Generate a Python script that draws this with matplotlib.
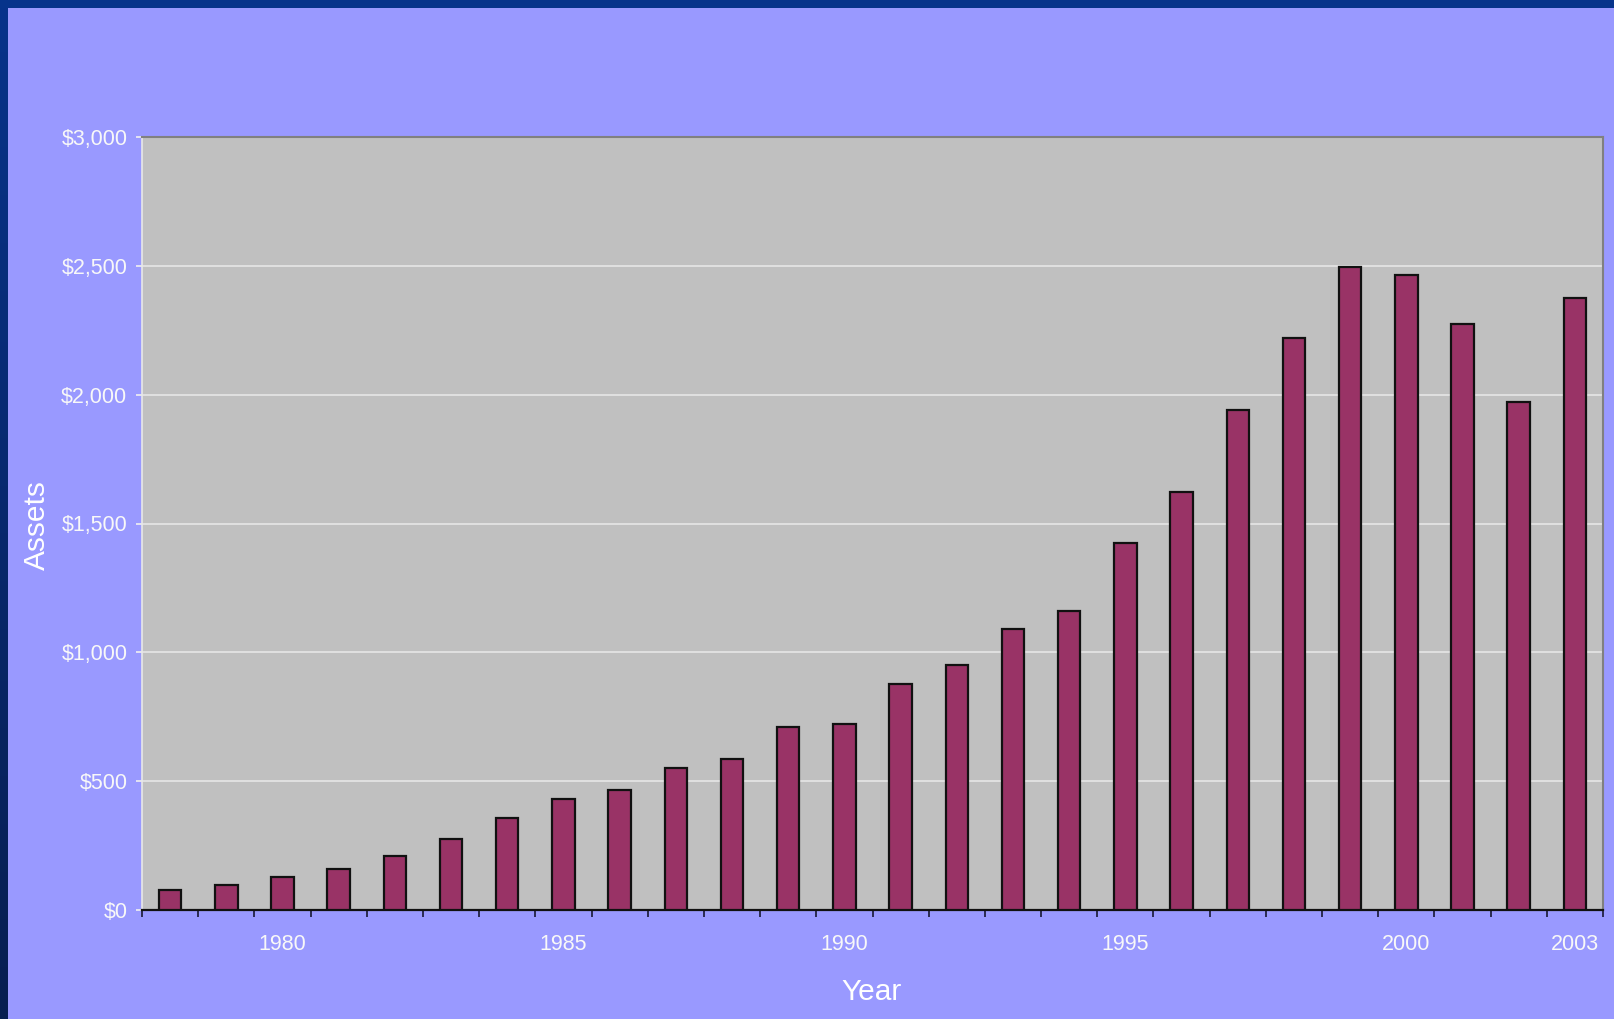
import matplotlib
matplotlib.use("Agg")
import matplotlib.pyplot as plt
import numpy as np
from matplotlib.patches import Rectangle
from matplotlib.ticker import FuncFormatter, FixedLocator
from matplotlib.colors import LinearSegmentedColormap

years = list(range(1978, 2004))
assets = [76, 96, 128, 160, 208, 276, 356, 431, 467, 551, 587, 711, 723,
          879, 951, 1091, 1159, 1426, 1622, 1942, 2221, 2497, 2463, 2274, 1970, 2375]
labeled_years = [1980, 1985, 1990, 1995, 2000, 2003]
y_ticks = [0, 500, 1000, 1500, 2000, 2500, 3000]

plt.rcParams['font.family'] = ['Liberation Sans', 'DejaVu Sans']

W, H = 1614, 1019
fig = plt.figure(figsize=(W / 100, H / 100), dpi=100)
fig.patch.set_facecolor('#9999FF')
# top border
fig.patches.append(Rectangle((0, 1 - 8 / H), 1, 8 / H, transform=fig.transFigure,
                             facecolor='#06338B', edgecolor='none'))
# left border gradient
gax = fig.add_axes([0, 0, 8 / W, 1])
grad = np.linspace(0, 1, 256).reshape(-1, 1)
cmap = LinearSegmentedColormap.from_list('b', ['#06338B', '#061E50'])
gax.imshow(grad, aspect='auto', cmap=cmap, extent=[0, 1, 0, 1], origin='upper')
gax.axis('off')

ax = fig.add_axes([142 / W, 1 - 910 / H, (1603 - 142) / W, (910 - 137) / H])
ax.set_facecolor('#C0C0C0')
x = np.arange(len(years))
ax.bar(x, assets, width=0.4, color='#993366', edgecolor='#111111', linewidth=1.6, zorder=3)

ax.set_xlim(-0.5, len(years) - 0.5)
ax.set_ylim(0, 3000)
ax.set_yticks(y_ticks)
ax.yaxis.set_major_formatter(FuncFormatter(lambda v, p: f"${int(v):,}"))
ax.grid(axis='y', color='#E6E6E6', linewidth=1.2, zorder=1)
ax.set_axisbelow(True)

ax.set_xticks([years.index(y) for y in labeled_years])
ax.set_xticklabels([str(y) for y in labeled_years])
ax.xaxis.set_minor_locator(FixedLocator(np.arange(-0.5, len(years), 1.0)))
ax.tick_params(axis='x', which='major', length=0, pad=17, labelsize=15.5, labelcolor='#F8F8F8')
ax.tick_params(axis='x', which='minor', length=5, width=1.3, color='#222244', direction='out')
ax.tick_params(axis='y', which='major', length=4.5, width=1.2, color='#F0F0F0', pad=6,
               labelsize=15.5, labelcolor='#F8F8F8', direction='out')

for s in ['top', 'right']:
    ax.spines[s].set_color('#808080')
    ax.spines[s].set_linewidth(1.5)
ax.spines['left'].set_color('#E8E8E8')
ax.spines['left'].set_linewidth(1.2)
ax.spines['bottom'].set_color('#111111')
ax.spines['bottom'].set_linewidth(1.6)

fig.text(37 / W, 1 - 525 / H, 'Assets', rotation=90, ha='center', va='center',
         fontsize=21.5, color='#FFFFFF')
fig.text(872 / W, 1 - 992 / H, 'Year', ha='center', va='center',
         fontsize=21.5, color='#FFFFFF')

fig.savefig('out.png', dpi=100, facecolor=fig.get_facecolor())
